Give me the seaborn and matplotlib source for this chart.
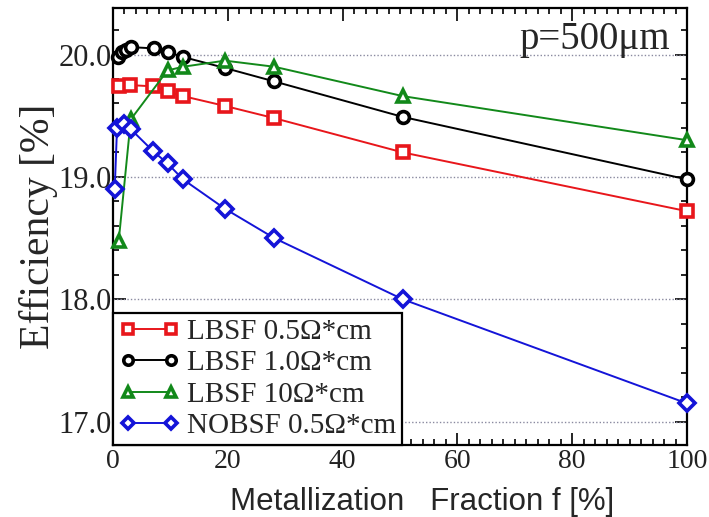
import numpy as np
import pandas as pd
import matplotlib
matplotlib.use("Agg")
import matplotlib.pyplot as plt
from matplotlib.ticker import MultipleLocator
import seaborn as sns

# ---- data ----
labels = ["LBSF 0.5Ω*cm", "LBSF 1.0Ω*cm", "LBSF 10Ω*cm", "NOBSF 0.5Ω*cm"]

x_lbsf05 = [1.0, 3.0, 7.0, 9.5, 12.2, 19.5, 28.1, 50.5, 100]
y_lbsf05 = [19.74, 19.75, 19.74, 19.70, 19.66, 19.58, 19.48, 19.20, 18.72]

x_lbsf10 = [0.8, 1.5, 2.2, 3.2, 7.2, 9.5, 12.2, 19.5, 28.1, 50.5, 100]
y_lbsf10 = [19.98, 20.02, 20.04, 20.06, 20.05, 20.02, 19.98, 19.89, 19.78, 19.49, 18.98]

x_lbsf100 = [1.0, 3.1, 9.5, 12.2, 19.5, 28.1, 50.5, 100]
y_lbsf100 = [18.48, 19.47, 19.87, 19.90, 19.95, 19.90, 19.66, 19.30]

x_nobsf = [0.3, 0.7, 2.0, 3.1, 7.0, 9.5, 12.2, 19.5, 28.1, 50.5, 100]
y_nobsf = [18.90, 19.40, 19.43, 19.39, 19.21, 19.11, 18.98, 18.74, 18.50, 18.00, 17.15]

x_ticks = [0, 20, 40, 60, 80, 100]
y_ticks = [17.0, 18.0, 19.0, 20.0]
y_ticklabels = ["17.0", "18.0", "19.0", "20.0"]

series = [
    (labels[0], x_lbsf05, y_lbsf05, "#e8161b", "s"),
    (labels[1], x_lbsf10, y_lbsf10, "#000000", "o"),
    (labels[2], x_lbsf100, y_lbsf100, "#12891a", "^"),
    (labels[3], x_nobsf, y_nobsf, "#1414d8", "D"),
]

sns.set_theme(style="white")
plt.rcParams["font.family"] = ["Liberation Serif", "DejaVu Serif"]
plt.rcParams["mathtext.default"] = "regular"

fig = plt.figure(figsize=(7.09, 5.17), dpi=100)
ax = fig.add_axes([113 / 709, 72 / 517, 574 / 709, 437 / 517])

for lab, xs, ys, col, mk in series:
    df = pd.DataFrame({"x": xs, "y": ys})
    ms = 8.5 if mk != "D" else 7.8
    sns.lineplot(data=df, x="x", y="y", ax=ax, sort=False, color=col, lw=1.4,
                 marker=mk, markersize=ms, markerfacecolor="white",
                 markeredgecolor=col, markeredgewidth=2.6, label=lab, zorder=3,
                 clip_on=False)

ax.set_xlim(0, 100)
ax.set_ylim(16.81, 20.38)
ax.set_xticks(x_ticks)
ax.set_xticklabels([str(t) for t in x_ticks])
ax.set_yticks(y_ticks)
ax.set_yticklabels(y_ticklabels)
ax.xaxis.set_minor_locator(MultipleLocator(2))
ax.yaxis.set_minor_locator(MultipleLocator(0.2))
ax.tick_params(which="both", direction="in", top=True, right=True,
               bottom=True, left=True, color="black", width=1.2)
ax.tick_params(which="major", length=9)
ax.tick_params(which="minor", length=4.5)
ax.tick_params(axis="x", which="major", labelsize=20, pad=3, colors="#222222")
ax.tick_params(axis="y", which="major", labelsize=22, pad=1, colors="#222222")
ax.tick_params(axis="both", which="both", color="black")

for sp in ax.spines.values():
    sp.set_color("black")
    sp.set_linewidth(1.6)

ax.grid(False)
for yt in y_ticks:
    ax.axhline(yt, color="#8a8aa0", ls=(0, (1, 1.5)), lw=1.0, zorder=1)

ax.set_ylabel("Efficiency [%]", fontsize=30, labelpad=0)
ax.set_xlabel("Metallization   Fraction f [%]", fontsize=22.5,
              fontfamily="Liberation Sans", labelpad=2)
ax.xaxis.set_label_coords((422 - 113) / 574, -0.095)

ax.text(0.97, 0.97, "p=500μm", transform=ax.transAxes, fontsize=28,
        ha="right", va="top")

leg = ax.legend(loc="lower left", bbox_to_anchor=(0, 0), borderaxespad=0,
                fontsize=21, numpoints=2, handlelength=2.1, handletextpad=0.25,
                borderpad=0.2, labelspacing=0.17, markerscale=0.8,
                fancybox=False, framealpha=1, edgecolor="black", frameon=True)
leg.get_frame().set_linewidth(1.6)
leg.set_zorder(10)

fig.savefig("out.png", dpi=100)
